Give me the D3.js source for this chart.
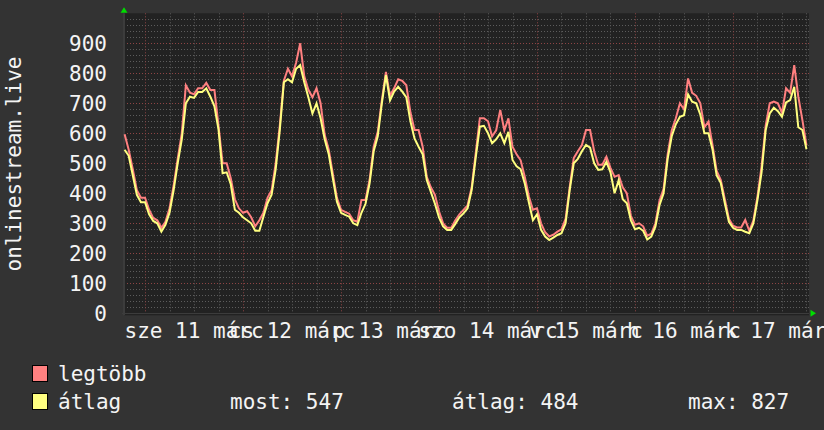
<!DOCTYPE html>
<html><head><meta charset="utf-8">
<script src="https://cdn.jsdelivr.net/npm/d3@7"></script>
<style>html,body{margin:0;padding:0;background:#333333;} svg{display:block;}</style>
</head><body><svg id="c" width="824" height="430"></svg>
<script>
// ---- data ----
const yAxisTitle = "onlinestream.live";
const firstSampleUTC = Date.UTC(2026, 2, 10, 19); // hourly samples start
const domainStartUTC = Date.UTC(2026, 2, 10, 18, 51);
const domainEndUTC = Date.UTC(2026, 2, 17, 18, 37);
const yTicks = [0, 100, 200, 300, 400, 500, 600, 700, 800, 900];
const seriesNames = ["legtöbb", "átlag"];
const seriesColors = ["#ff8080", "#ffff80"];
const legendStats = ["most: 547", "átlag: 484", "max: 827"];
const maxValues = [597,545,480,410,385,385,345,318,310,285,305,350,425,515,600,760,735,730,750,750,768,744,744,625,500,500,450,380,350,335,340,320,290,310,
335,385,410,500,625,775,815,790,835,900,790,745,720,750,700,595,545,465,385,345,338,332,310,305,378,378,445,555,605,710,805,725,750,
780,775,760,670,611,611,555,455,420,395,340,300,285,285,310,330,345,360,420,535,650,650,640,590,610,678,610,650,555,530,510,455,390,345,
350,300,270,256,262,272,280,315,420,517,540,561,611,611,540,495,495,522,485,455,461,420,400,325,295,300,290,258,266,300,375,415,530,610,
650,700,680,783,735,725,700,620,639,560,475,445,380,315,292,286,286,311,275,310,390,490,625,700,706,700,668,750,735,827,722,644,560];
const avgValues = [545,525,460,395,370,370,330,308,300,272,295,335,410,500,580,700,722,718,738,738,750,722,690,612,467,470,430,345,335,320,310,300,275,275,
322,367,395,480,610,770,780,770,815,827,770,720,666,700,650,580,530,450,372,335,328,322,300,294,335,365,433,540,590,700,794,710,739,
755,739,720,640,583,555,530,444,405,365,320,290,278,278,298,320,333,350,411,520,622,625,600,567,580,600,567,605,511,490,480,433,370,310,
330,278,256,244,252,261,267,300,410,500,515,540,561,552,500,478,480,505,470,400,444,380,367,310,280,285,275,246,256,289,360,400,515,590,
630,655,660,730,705,700,662,600,600,545,460,435,367,305,285,278,278,272,267,300,378,470,610,666,685,674,655,703,711,755,620,611,547];

// ---- layout ----
const svg = d3.select("#c");
const W = 824, H = 430;
const L = 124, R = 809, T = 13.3, B = 313.3;
const font = "'DejaVu Sans Mono', monospace";
const fs = 21;
const txt = "#f4f4f4";

svg.append("rect").attr("width", W).attr("height", H).attr("fill", "#333333");

const x = d3.scaleUtc().domain([new Date(domainStartUTC), new Date(domainEndUTC)]).range([L, R]);
const y = d3.scaleLinear().domain([0, 1000]).range([B, T]);

svg.append("rect").attr("x", L).attr("y", T).attr("width", R - L).attr("height", B - T + 2).attr("fill", "#222222");

const hu = d3.timeFormatLocale({
  dateTime: "%Y. %B %-e., %A %X", date: "%Y. %m. %d.", time: "%H:%M:%S", periods: ["de.", "du."],
  days: ["vasárnap","hétfő","kedd","szerda","csütörtök","péntek","szombat"],
  shortDays: ["v","h","k","sze","cs","p","szo"],
  months: ["január","február","március","április","május","június","július","augusztus","szeptember","október","november","december"],
  shortMonths: ["jan","febr","márc","ápr","máj","jún","júl","aug","szept","okt","nov","dec"]
});
const fmt = hu.utcFormat("%a %d %b");

const px = v => Math.round(v) + 0.5;
const grid = svg.append("g");
function hLine(v, color) {
  grid.append("line").attr("x1", L).attr("x2", R).attr("y1", px(y(v))).attr("y2", px(y(v)))
    .attr("stroke", color).attr("stroke-width", 1).attr("stroke-dasharray", "1,2");
}
function vLine(d, color) {
  grid.append("line").attr("x1", px(x(d))).attr("x2", px(x(d))).attr("y1", T).attr("y2", B)
    .attr("stroke", color).attr("stroke-width", 1).attr("stroke-dasharray", "1,2");
}
d3.range(0, 1000, 20).filter(v => v % 100 !== 0).forEach(v => hLine(v, "#5c5c5c"));
x.ticks(d3.utcHour.every(6)).filter(d => d.getUTCHours() !== 0).forEach(d => vLine(d, "#5c5c5c"));
yTicks.filter(v => v > 0).forEach(v => hLine(v, "#8e4444"));
x.ticks(d3.utcDay.every(1)).forEach(d => vLine(d, "#8e4444"));

// axes lines
svg.append("line").attr("x1", L).attr("x2", L).attr("y1", T).attr("y2", B + 2).attr("stroke", "#3c3c3c").attr("stroke-width", 2);
svg.append("line").attr("x1", L - 2).attr("x2", R).attr("y1", px(B)).attr("y2", px(B)).attr("stroke", "#3c3c3c").attr("stroke-width", 1);

// y labels
const yAxis = d3.axisLeft(y).tickValues(yTicks).tickSize(0).tickPadding(17).tickFormat(d3.format("d"));
const ya = svg.append("g").attr("transform", `translate(${L},0)`).call(yAxis);
ya.select(".domain").remove();
ya.selectAll("text").attr("fill", txt).attr("font-family", font).attr("font-size", fs);

// x labels at noon
const days = x.ticks(d3.utcDay.every(1));
const noonTimes = [d3.utcDay.offset(days[0], -1)].concat(days).map(d => d3.utcHour.offset(d, 12)).filter(d => x(d) > L);
svg.append("g").selectAll("text").data(noonTimes).join("text")
  .attr("x", d => x(d)).attr("y", 338).attr("text-anchor", "middle")
  .attr("fill", txt).attr("font-family", font).attr("font-size", fs).text(d => fmt(d));

// y title
svg.append("text").attr("transform", "translate(21,164) rotate(-90)").attr("text-anchor", "middle")
  .attr("fill", txt).attr("font-family", font).attr("font-size", fs).text(yAxisTitle);

// series
const times = avgValues.map((_, i) => new Date(firstSampleUTC + i * 3600e3));
const line = d3.line().x((d, i) => x(times[i])).y(d => y(d));
[maxValues, avgValues].forEach((vals, si) => {
  svg.append("path").attr("d", line(vals)).attr("fill", "none")
    .attr("stroke", seriesColors[si]).attr("stroke-width", 2).attr("stroke-linejoin", "miter");
});

// arrows
svg.append("path").attr("d", `M${L - 3.5},${T - 0.5} L${L + 3.5},${T - 0.5} L${L},${T - 6} Z`).attr("fill", "#00dd00");
svg.append("path").attr("d", `M${R + 1.5},${B - 3.5} L${R + 1.5},${B + 3.5} L${R + 7},${B} Z`).attr("fill", "#00dd00");

// legend
const legendRows = [381, 409];
seriesNames.forEach((n, i) => {
  svg.append("rect").attr("x", 32.5).attr("y", legendRows[i] - 15.5).attr("width", 15).attr("height", 16)
    .attr("fill", seriesColors[i]).attr("stroke", "#000").attr("stroke-width", 1);
  svg.append("text").attr("x", 58).attr("y", legendRows[i]).attr("fill", txt)
    .attr("font-family", font).attr("font-size", fs).text(n);
});
const statX = [230, 452, 688];
legendStats.forEach((s, i) => {
  svg.append("text").attr("x", statX[i]).attr("y", legendRows[1]).attr("fill", txt)
    .attr("font-family", font).attr("font-size", fs).text(s);
});
</script></body></html>
